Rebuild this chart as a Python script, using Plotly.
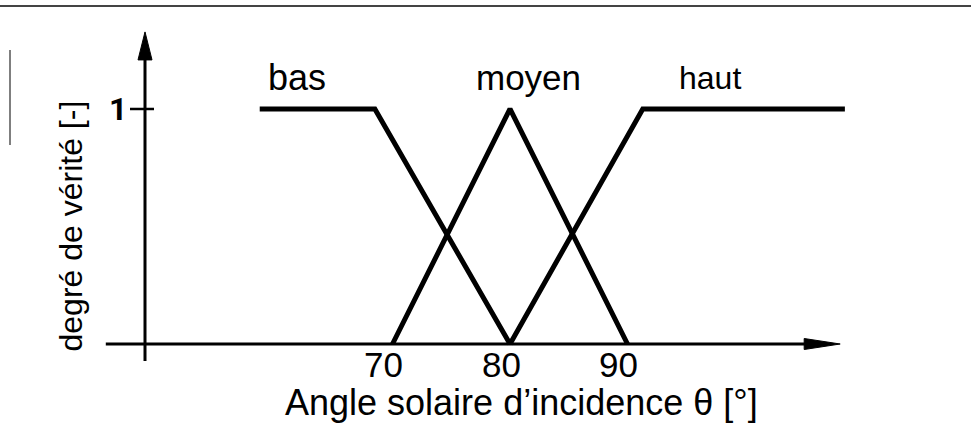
import plotly.graph_objects as go

# ---- data ----
bas_x = [58.7, 68.5, 80.0]
bas_y = [1, 1, 0]
moyen_x = [70.0, 80.0, 90.0]
moyen_y = [0, 1, 0]
haut_x = [80.0, 91.3, 108.5]
haut_y = [0, 1, 1]
set_names = ["bas", "moyen", "haut"]
set_label_x = [59.2, 81.6, 97.0]       # label positions (left for bas, centre for others)
x_tick_vals = [70, 80, 90]
x_tick_text = ["70", "80", "90"]
y_tick_vals = [1]
y_tick_text = ["1"]
x_title = "Angle solaire d\u2019incidence \u03b8 [\u00b0]"
y_title = "degr\u00e9 de v\u00e9rit\u00e9 [-]"

# ---- layout constants ----
W, H = 971, 447
X_RANGE = [36.596, 119.234]
Y_RANGE = [-0.4383, 1.4638]
px_x = (X_RANGE[1] - X_RANGE[0]) / W   # data units per pixel (x)
px_y = (Y_RANGE[1] - Y_RANGE[0]) / H   # data units per pixel (y)

FONT = "Liberation Sans, Arial, Helvetica, sans-serif"

fig = go.Figure()
for xs, ys in [(bas_x, bas_y), (moyen_x, moyen_y), (haut_x, haut_y)]:
    fig.add_trace(go.Scatter(x=xs, y=ys, mode="lines",
                             line=dict(color="black", width=5),
                             hoverinfo="skip", showlegend=False))

shapes = []
# axes lines
x_axis_start = 45.6
x_axis_tip = 108.1
y_axis_bottom = -0.072
y_axis_tip = 1.328
y_axis_x = 80 + (145 - 510) * px_x
shapes.append(dict(type="line", xref="x", yref="y", x0=x_axis_start, y0=0,
                   x1=x_axis_tip - 30 * px_x, y1=0, line=dict(color="black", width=3)))
shapes.append(dict(type="line", xref="x", yref="y", x0=y_axis_x, y0=y_axis_bottom,
                   x1=y_axis_x, y1=y_axis_tip - 25 * px_y, line=dict(color="black", width=3)))
# arrowheads
ax_len, ax_half = 36 * px_x, 5.5 * px_y
shapes.append(dict(type="path", xref="x", yref="y",
                   path=f"M {x_axis_tip - ax_len},{-ax_half} L {x_axis_tip},0 L {x_axis_tip - ax_len},{ax_half} Z",
                   fillcolor="black", line=dict(color="black", width=1)))
ay_len, ay_half = 28 * px_y, 7 * px_x
shapes.append(dict(type="path", xref="x", yref="y",
                   path=f"M {y_axis_x - ay_half},{y_axis_tip - ay_len} L {y_axis_x},{y_axis_tip} L {y_axis_x + ay_half},{y_axis_tip - ay_len} Z",
                   fillcolor="black", line=dict(color="black", width=1)))
# y tick at 1
for yv in y_tick_vals:
    shapes.append(dict(type="line", xref="x", yref="y", x0=y_axis_x - 15 * px_x, y0=yv,
                       x1=y_axis_x + 9 * px_x, y1=yv, line=dict(color="black", width=2.5)))
# frame remnants
shapes.append(dict(type="line", xref="paper", yref="paper", x0=0, x1=1,
                   y0=1 - 6 / H, y1=1 - 6 / H, line=dict(color="#444", width=2)))
shapes.append(dict(type="line", xref="paper", yref="paper", x0=10 / W, x1=10 / W,
                   y0=1 - 145 / H, y1=1 - 50 / H, line=dict(color="#555", width=1.5)))

annotations = []
def ann(x, y, text, size, family=FONT, **kw):
    d = dict(x=x, y=y, text=text, xref="x", yref="y", showarrow=False,
             font=dict(family=family, size=size, color="black"))
    d.update(kw)
    annotations.append(d)

# set labels
ann(set_label_x[0], 1.132, set_names[0], 36, xanchor="left")
ann(set_label_x[1], 1.132, set_names[1], 35, xanchor="center")
ann(set_label_x[2], 1.132, set_names[2], 32, xanchor="center")
# x tick labels
for v, t in zip(x_tick_vals, x_tick_text):
    ann(v, -0.089, t, 35, xanchor="center", xshift=-9)
# y tick labels
for v, t in zip(y_tick_vals, y_tick_text):
    ann(y_axis_x - 16 * px_x, v, "<b>" + t + "</b>", 32, family="Roboto", xanchor="right")
# titles
ann(81.0, -0.247, x_title, 36, xanchor="center")
ann(80 + (70 - 510) * px_x, 0.5, y_title, 32, textangle=-90,
    xanchor="center", yanchor="middle")

fig.update_layout(
    width=W, height=H,
    margin=dict(l=0, r=0, t=0, b=0),
    paper_bgcolor="white", plot_bgcolor="white",
    xaxis=dict(range=X_RANGE, visible=False, fixedrange=True),
    yaxis=dict(range=Y_RANGE, visible=False, fixedrange=True),
    shapes=shapes, annotations=annotations,
    showlegend=False,
)
fig.write_html("out.html", config={"displayModeBar": False},
               post_script="document.body.style.margin='0';document.body.style.overflow='hidden';")
